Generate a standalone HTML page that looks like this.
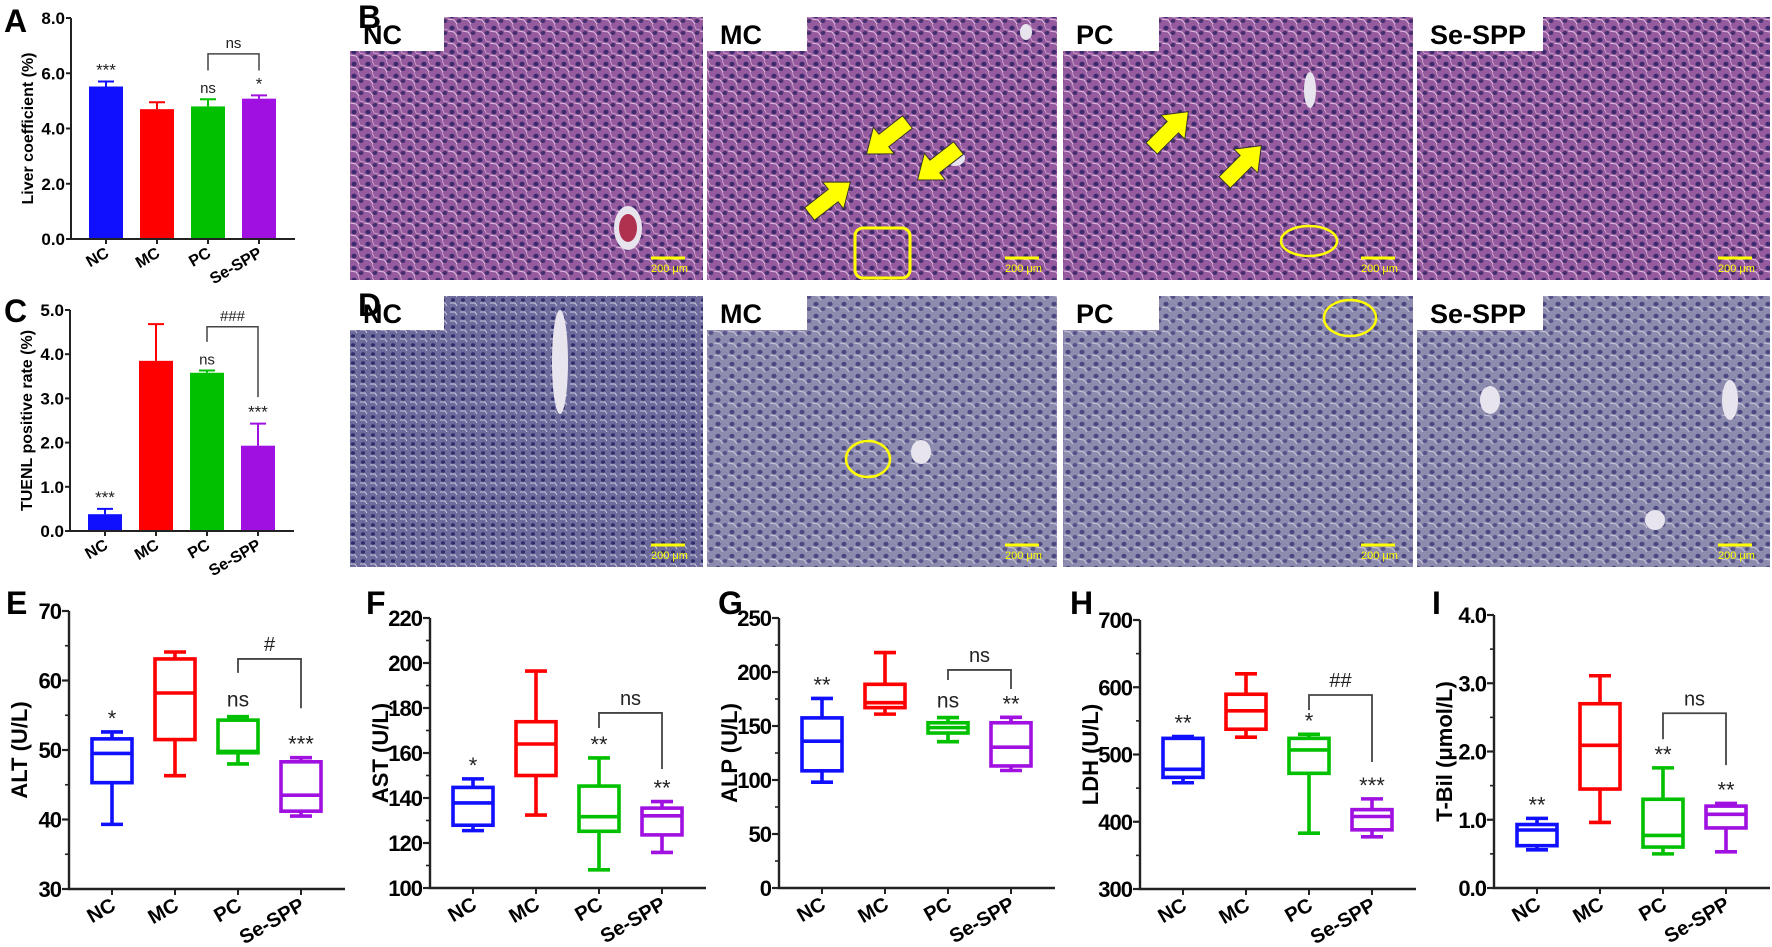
<!DOCTYPE html>
<html><head><meta charset="utf-8"><style>
html,body{margin:0;padding:0;background:#fff;}
svg{display:block;font-family:"Liberation Sans",Arial,sans-serif;}
</style></head><body>
<svg id="fig" width="1772" height="947" viewBox="0 0 1772 947" xmlns="http://www.w3.org/2000/svg">
<defs>
<pattern id="he" width="14" height="12" patternUnits="userSpaceOnUse">
<rect width="14" height="12" fill="#965a9e"/>
<ellipse cx="4" cy="4" rx="2.6" ry="2.2" fill="#3c2a6e"/>
<ellipse cx="11" cy="9" rx="2.4" ry="2" fill="#45306f"/>
<path d="M0 7 L6 8 L9 12" stroke="#e0c0e0" stroke-width="1" fill="none"/>
<path d="M8 0 L10 5 L14 6" stroke="#d0a8d0" stroke-width="0.8" fill="none"/>
</pattern>
<pattern id="tu" width="14" height="12" patternUnits="userSpaceOnUse">
<rect width="14" height="12" fill="#8e8cae"/>
<ellipse cx="4" cy="4" rx="2.6" ry="2.2" fill="#4a4880"/>
<ellipse cx="11" cy="9" rx="2.4" ry="2" fill="#55538a"/>
<path d="M0 7 L6 8 L9 12" stroke="#c8c8d8" stroke-width="1" fill="none"/>
</pattern>
<pattern id="tu2" width="10" height="9" patternUnits="userSpaceOnUse">
<rect width="10" height="9" fill="#6e6c9c"/>
<ellipse cx="3" cy="3" rx="2" ry="1.7" fill="#2e2c6a"/>
<path d="M0 6 L5 6 L7 9" stroke="#c8c8dc" stroke-width="1" fill="none"/>
</pattern>
</defs>
<g id="micro"></g>
<g id="charts"></g>
</svg>
<script>
// ---------- data ----------
const groups = ["NC", "MC", "PC", "Se-SPP"];
const groupColors = ["#1010ff", "#ff0000", "#00c000", "#a010e0"];

const liverMean = [5.52, 4.70, 4.80, 5.08];
const liverErr = [0.18, 0.25, 0.26, 0.12];
const liverTicks = [0, 2, 4, 6, 8];
const liverStars = ["***", "", "ns", "*"];

const tunelMean = [0.38, 3.85, 3.58, 1.93];
const tunelErr = [0.12, 0.83, 0.05, 0.50];
const tunelTicks = [0, 1, 2, 3, 4, 5];
const tunelStars = ["***", "", "ns", "***"];

// box stats: [min, q1, median, q3, max]
const altBoxes = [[39.3,45.3,49.5,51.6,52.6],[46.3,51.5,58.2,63.1,64.1],[48.0,49.6,49.8,54.3,54.8],[40.5,41.2,43.5,48.3,48.9]];
const altTicks = [30, 40, 50, 60, 70];
const altStars = ["*", "", "ns", "***"];
const astBoxes = [[125.5,127.9,137.8,144.7,148.5],[132.4,150,164,173.9,196.4],[108.1,125.2,131.7,145.3,157.8],[115.8,123.6,132.1,135.5,138.4]];
const astTicks = [100, 120, 140, 160, 180, 200, 220];
const astStars = ["*", "", "**", "**"];
const alpBoxes = [[98,108.5,135.9,157.5,175.5],[161,167,171.6,188.6,218],[135.5,143.5,148.5,153,157.8],[108.8,113,130.4,153,158]];
const alpTicks = [0, 50, 100, 150, 200, 250];
const alpStars = ["**", "", "ns", "**"];
const ldhBoxes = [[458,466,478,524,526.7],[525.7,537.6,565,589.6,620],[383,472,506.8,524,530],[377.6,388,407.8,418,434]];
const ldhTicks = [300, 400, 500, 600, 700];
const ldhStars = ["**", "", "*", "***"];
const tbilBoxes = [[0.56,0.62,0.85,0.93,1.02],[0.96,1.45,2.09,2.70,3.11],[0.50,0.60,0.77,1.30,1.76],[0.53,0.88,1.08,1.20,1.24]];
const tbilTicks = [0, 1, 2, 3, 4];
const tbilStars = ["**", "", "**", "**"];

const SVGNS = "http://www.w3.org/2000/svg";
const charts = document.getElementById("charts");
const micro = document.getElementById("micro");
function mk(tag, attrs, parent) {
  const e = document.createElementNS(SVGNS, tag);
  for (const k in attrs) e.setAttribute(k, attrs[k]);
  (parent || charts).appendChild(e);
  return e;
}
function txt(s, attrs, parent) { const t = mk("text", attrs, parent); t.textContent = s; return t; }
function linear(d0, d1, r0, r1) { return v => r0 + (v - d0) * (r1 - r0) / (d1 - d0); }

// ---------- micrographs ----------
const imgCols = [[350,703],[707,1057],[1063,1413],[1417,1770]];
const rows = [{y0:17,y1:280,fill:"url(#he)",key:"he"},{y0:296,y1:567,fill:"url(#tu)",key:"tunel"}];
const vessels = [[628,228,14,22],[1310,90,6,18],[955,158,10,8],[1026,32,6,8],[560,362,8,52],[921,452,10,12],[1490,400,10,14],[1730,400,8,20],[1655,520,10,10]];
rows.forEach((r, ri) => {
  imgCols.forEach((c, ci) => {
    const g = mk("g", {}, micro);
    
    
    const f = (ri === 1 && ci === 0) ? "url(#tu2)" : r.fill;
    mk("rect", {x:c[0], y:r.y0, width:c[1]-c[0], height:r.y1-r.y0, fill:f}, g);
  });
});
vessels.forEach(v=>{
  const e = mk("ellipse",{cx:v[0],cy:v[1],rx:v[2],ry:v[3],fill:"#e8e4ee"},micro);
   
});
mk("ellipse",{cx:628,cy:228,rx:9,ry:14,fill:"#b03050"},micro);
rows.forEach((r, ri) => {
  imgCols.forEach((c, ci) => {
    const g = mk("g", {}, micro);
    const w = [68, 74, 70, 100][ci];
    const lb = mk("rect", {x:c[0], y:r.y0, width:w+26, height:34, fill:"#fff"}, g);
    
    
    const lt = txt(groups[ci], {x:c[0]+13, y:r.y0+27, "font-size":27, "font-weight":"bold", fill:"#000"}, g);
    
    
    const sb = mk("line", {x1:c[1]-52, y1:r.y1-22, x2:c[1]-18, y2:r.y1-22, stroke:"#ffff00", "stroke-width":3}, g);
    
    
    const st = txt("200 μm", {x:c[1]-52, y:r.y1-8, "font-size":11, fill:"#ffff00"}, g);
    
    
  });
});
// arrows
function arrow(x, y, ang) {
  const p = mk("polygon", {points:"-26,-8 4,-8 4,-17 26,0 4,17 4,8 -26,8", fill:"#ffff00", stroke:"#333", "stroke-width":1,
    transform:`translate(${x},${y}) rotate(${ang})`}, micro);
  
  
}
arrow(830,198,-38); arrow(887,138,142); arrow(938,164,142); arrow(1170,130,-45); arrow(1243,164,-45);
const sq = mk("rect",{x:855,y:228,width:55,height:50,rx:8,fill:"none",stroke:"#ffff00","stroke-width":3},micro);
 
[[1309,241,28,15],[868,459,22,18],[1350,318,26,18]].forEach(e=>{
  const el = mk("ellipse",{cx:e[0],cy:e[1],rx:e[2],ry:e[3],fill:"none",stroke:"#ffff00","stroke-width":2.5},micro);
   
});

// ---------- panel letters ----------
[["A",4,32],["B",358,28],["C",4,322],["D",358,316],["E",6,614],["F",366,614],["G",718,614],["H",1070,614],["I",1432,614]].forEach(l=>{
  const t = txt(l[0], {x:l[1], y:l[2], "font-size":32, "font-weight":"bold", fill:"#000"});
  
  
});

// ---------- bar charts ----------
function barChart(cfg, means, errs, ticks, stars) {
  const y = linear(ticks[0], ticks[ticks.length-1], cfg.yBot, cfg.yTop);
  const g = mk("g", {});
  
  
  means.forEach((m, i) => {
    const cx = cfg.x0 + 35 + i * 51;
    const b = mk("rect", {x:cx-17, y:y(m), width:34, height:cfg.yBot-y(m), fill:groupColors[i]}, g);
    
    
    const eb = mk("path", {d:`M${cx} ${y(m)} V${y(m+errs[i])} M${cx-8} ${y(m+errs[i])} H${cx+8}`, stroke:groupColors[i], "stroke-width":2, fill:"none"}, g);
    
    
    if (stars[i]) {
      const s = txt(stars[i], {x:cx, y:y(m+errs[i])-6, "font-size":stars[i]==="ns"?15:17, "text-anchor":"middle", fill:"#222"}, g);
      
      
    }
    mk("line", {x1:cx, y1:cfg.yBot, x2:cx, y2:cfg.yBot+5, stroke:"#222", "stroke-width":2}, g);
    const xl = txt(groups[i], {x:cx+4, y:cfg.yBot+17, "font-size":16, "font-weight":"bold", "text-anchor":"end", transform:`rotate(-30 ${cx+4} ${cfg.yBot+17})`}, g);
    
    
  });
  const ax = mk("path", {d:`M${cfg.x0} ${cfg.yTop} V${cfg.yBot} H${cfg.x0+224}`, stroke:"#222", "stroke-width":2, fill:"none"}, g);
  
  
  ticks.forEach(t => {
    mk("line", {x1:cfg.x0-5, y1:y(t), x2:cfg.x0, y2:y(t), stroke:"#222", "stroke-width":2}, g);
    const tl = txt(t.toFixed(1), {x:cfg.x0-6, y:y(t)+6, "font-size":17, "font-weight":"bold", "text-anchor":"end"}, g);
    
    
  });
  const tx = cfg.x0 - 38, ty = (cfg.yTop + cfg.yBot) / 2;
  const yt = txt(cfg.title, {x:tx, y:ty, "font-size":16, "font-weight":"bold", "text-anchor":"middle", transform:`rotate(-90 ${tx} ${ty})`}, g);
  
  
  const xa = cfg.x0 + 35 + 2*51, xb = cfg.x0 + 35 + 3*51;
  const br = mk("path", {d:`M${xa} ${y(cfg.br[1])} V${y(cfg.br[0])} H${xb} V${y(cfg.br[2])}`, stroke:"#444", "stroke-width":1.5, fill:"none"}, g);
  
  
  const bl = txt(cfg.brLabel, {x:(xa+xb)/2, y:y(cfg.br[0])-6, "font-size":15, "text-anchor":"middle", fill:"#222"}, g);
  
  
}
barChart({name:"liver-coefficient-chart", x0:71, yTop:18, yBot:239, title:"Liver coefficient (%)", br:[6.7,6.1,6.1], brLabel:"ns"}, liverMean, liverErr, liverTicks, liverStars);
barChart({name:"tunel-chart", x0:70, yTop:310, yBot:531, title:"TUENL positive rate (%)", br:[4.62,4.28,3.03], brLabel:"###"}, tunelMean, tunelErr, tunelTicks, tunelStars);

// ---------- box charts ----------
function boxChart(cfg, boxes, ticks, stars) {
  const y = linear(ticks[0], ticks[ticks.length-1], cfg.yBot, cfg.yTop);
  const g = mk("g", {});
  
  
  const step = ticks[1] - ticks[0];
  ticks.forEach((t, k) => {
    mk("line", {x1:cfg.x0-7, y1:y(t), x2:cfg.x0, y2:y(t), stroke:"#222", "stroke-width":2.2}, g);
    if (k < ticks.length-1) mk("line", {x1:cfg.x0-4, y1:y(t+step/2), x2:cfg.x0, y2:y(t+step/2), stroke:"#222", "stroke-width":1.6}, g);
    const tl = txt(cfg.dec ? t.toFixed(1) : String(t), {x:cfg.x0-8, y:y(t)+8, "font-size":22, "font-weight":"bold", "text-anchor":"end", "letter-spacing":"-1"}, g);
    
    
  });
  const ax = mk("path", {d:`M${cfg.x0} ${cfg.yTop} V${cfg.yBot} H${cfg.x0+276}`, stroke:"#222", "stroke-width":2.4, fill:"none"}, g);
  
  
  const cx = i => cfg.x0 + 43 + i * 63;
  boxes.forEach((b, i) => {
    const c = cx(i), col = groupColors[i];
    const bg = mk("g", {stroke:col, "stroke-width":3.6, fill:"none"}, g);
    
    
    mk("rect", {x:c-20, y:y(b[3]), width:40, height:y(b[1])-y(b[3])}, bg);
    mk("path", {d:`M${c-20} ${y(b[2])} H${c+20} M${c} ${y(b[3])} V${y(b[4])} M${c-11} ${y(b[4])} H${c+11} M${c} ${y(b[1])} V${y(b[0])} M${c-11} ${y(b[0])} H${c+11}`}, bg);
    if (stars[i]) {
      const s = txt(stars[i], {x:c, y:y(b[4]) - (stars[i]==="ns"?10:6), "font-size":stars[i]==="ns"?21:22, "text-anchor":"middle", fill:"#222"}, g);
      
      
    }
    mk("line", {x1:c, y1:cfg.yBot, x2:c, y2:cfg.yBot+6, stroke:"#222", "stroke-width":2}, g);
    const lx = c + 5, ly = cfg.yBot + 20;
    const xl = txt(groups[i], {x:lx, y:ly, "font-size":20, "font-weight":"bold", "text-anchor":"end", transform:`rotate(-30 ${lx} ${ly})`}, g);
    
    
  });
  const tx = cfg.x0 - 42, ty = (cfg.yTop + cfg.yBot) / 2;
  const yt = txt(cfg.title, {x:tx, y:ty, "font-size":22, "font-weight":"bold", "text-anchor":"middle", transform:`rotate(-90 ${tx} ${ty})`}, g);
  
  
  const xa = cx(2), xb = cx(3);
  const br = mk("path", {d:`M${xa} ${y(cfg.br[1])} V${y(cfg.br[0])} H${xb} V${y(cfg.br[2])}`, stroke:"#444", "stroke-width":1.8, fill:"none"}, g);
  
  
  const bl = txt(cfg.brLabel, {x:(xa+xb)/2, y:y(cfg.br[0])-8, "font-size":20, "text-anchor":"middle", fill:"#222"}, g);
  
  
}
boxChart({name:"alt-chart", x0:69, yTop:611, yBot:889, title:"ALT (U/L)", br:[63.1,61.1,56.0], brLabel:"#"}, altBoxes, altTicks, altStars);
boxChart({name:"ast-chart", x0:430, yTop:618, yBot:888, title:"AST (U/L)", br:[177.8,171.1,152.9], brLabel:"ns"}, astBoxes, astTicks, astStars);
boxChart({name:"alp-chart", x0:779, yTop:618, yBot:888, title:"ALP (U/L)", br:[201.9,192.6,184.3], brLabel:"ns"}, alpBoxes, alpTicks, alpStars);
boxChart({name:"ldh-chart", x0:1140, yTop:620, yBot:889, title:"LDH (U/L)", br:[588.5,566,488.8], brLabel:"##"}, ldhBoxes, ldhTicks, ldhStars);
boxChart({name:"tbil-chart", x0:1494, yTop:615, yBot:888, title:"T-Bil (μmol/L)", dec:true, br:[2.56,2.18,1.80], brLabel:"ns"}, tbilBoxes, tbilTicks, tbilStars);
</script>
</body></html>
